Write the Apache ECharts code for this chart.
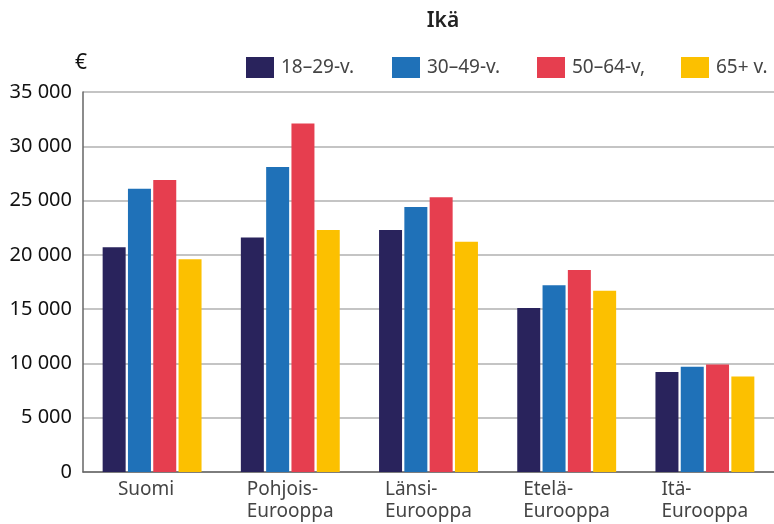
<!DOCTYPE html>
<html>
<head>
<meta charset="utf-8">
<script src="https://cdn.jsdelivr.net/npm/echarts@6/dist/echarts.min.js"></script>
<style>
html,body{margin:0;padding:0;background:#fff;}
#chart{width:774px;height:524px;}
</style>
</head>
<body>
<div id="chart"></div>
<script>
var categories = ['Suomi', 'Pohjois-\nEurooppa', 'Länsi-\nEurooppa', 'Etelä-\nEurooppa', 'Itä-\nEurooppa'];
var seriesNames = ['18–29-v.', '30–49-v.', '50–64-v,', '65+ v.'];
var age18to29 = [20700, 21600, 22300, 15100, 9200];
var age30to49 = [26100, 28100, 24400, 17200, 9700];
var age50to64 = [26900, 32100, 25300, 18600, 9900];
var age65plus = [19600, 22300, 21200, 16700, 8800];
var colors = ['#29235c', '#1f71b8', '#e63e4f', '#fcc000'];
var legendLeft = [241, 387, 532, 676];

var font = 'Noto Sans';
var allValues = [age18to29, age30to49, age50to64, age65plus];

var legends = [];
var series = [];
for (var i = 0; i < seriesNames.length; i++) {
    legends.push({
        data: [seriesNames[i]],
        left: legendLeft[i],
        top: 52,
        icon: 'rect',
        itemWidth: 28,
        itemHeight: 21,
        itemGap: 0,
        textStyle: {fontFamily: font, fontSize: 19, color: '#444', padding: [0, 0, 0, 2]}
    });
    series.push({
        name: seriesNames[i],
        type: 'bar',
        data: allValues[i],
        barWidth: 23,
        barGap: '10%',
        itemStyle: {color: colors[i]}
    });
}

var myChart = echarts.init(document.getElementById('chart'));
var option = {
    animation: false,
    title: {
        text: 'Ikä',
        left: 438,
        textAlign: 'center',
        top: 6,
        textStyle: {fontFamily: font, fontSize: 21, fontWeight: 600, color: '#222'}
    },
    graphic: [{
        type: 'text',
        left: 75,
        top: 53,
        style: {text: '€', font: '21px "Noto Sans"', fill: '#111'}
    }],
    legend: legends,
    grid: {left: 83, right: 0, top: 92, bottom: 52},
    xAxis: {
        type: 'category',
        data: categories,
        axisLine: {lineStyle: {color: '#666', width: 1.5}},
        axisTick: {show: false},
        axisLabel: {
            interval: 0,
            margin: 7,
            fontFamily: font,
            fontSize: 19,
            color: '#444',
            lineHeight: 22,
            formatter: function (v) {
                if (v.indexOf('\n') < 0) return '{b|' + v + '}';
                return '{a|' + v.split('\n').join('}\n{a|') + '}';
            },
            rich: {
                a: {width: 87, align: 'left', fontFamily: font, fontSize: 19, color: '#444', lineHeight: 22},
                b: {padding: [0, 12, 0, 0], fontFamily: font, fontSize: 19, color: '#444', lineHeight: 22}
            }
        }
    },
    yAxis: {
        type: 'value',
        min: 0,
        max: 35000,
        interval: 5000,
        axisLine: {show: true, lineStyle: {color: '#666', width: 1.5}},
        axisTick: {show: false},
        splitLine: {lineStyle: {color: '#b0b0b0', width: 1.5}},
        axisLabel: {
            margin: 11,
            fontFamily: font,
            fontSize: 20,
            color: '#111',
            formatter: function (v) {
                return String(v).replace(/\B(?=(\d{3})+(?!\d))/g, ' ');
            }
        }
    },
    series: series
};
myChart.setOption(option);
</script>
</body>
</html>
